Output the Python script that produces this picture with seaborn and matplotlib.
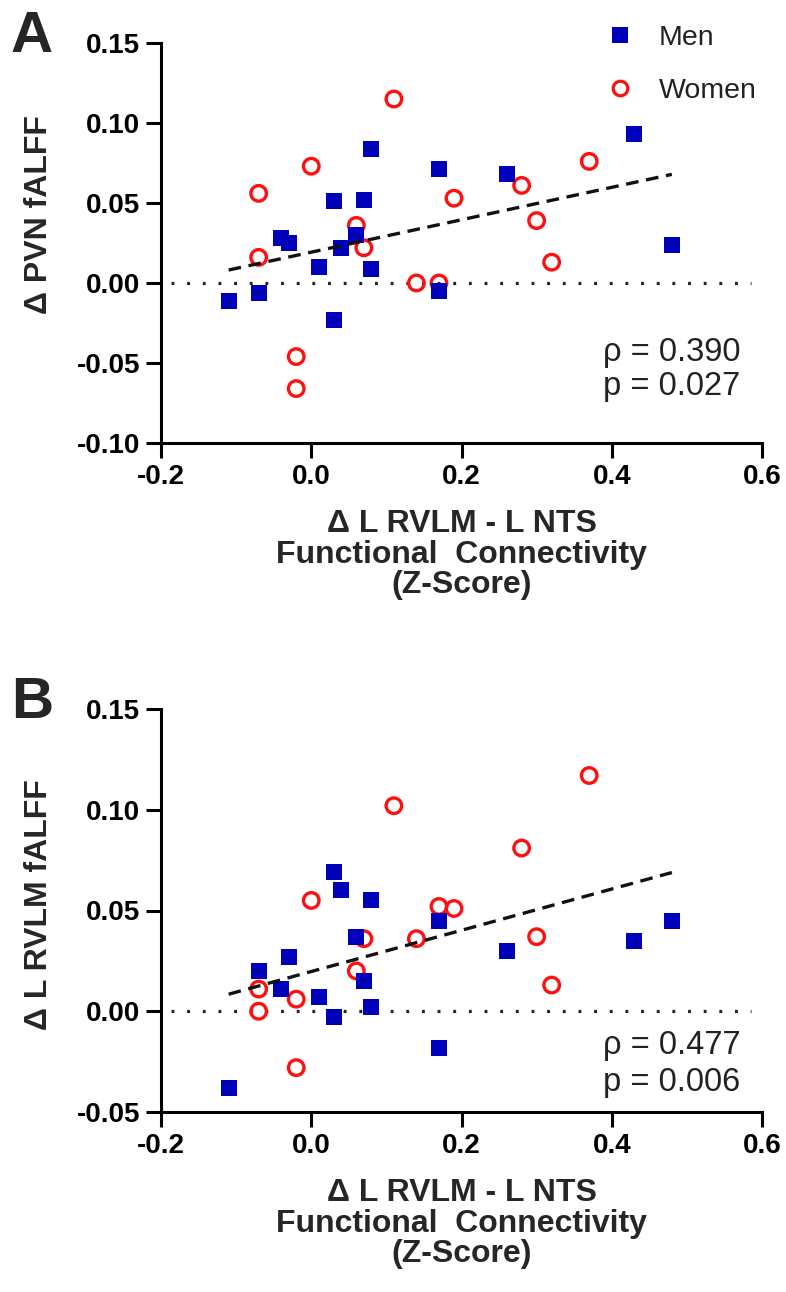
import matplotlib
matplotlib.use("Agg")
import matplotlib.pyplot as plt
from matplotlib.lines import Line2D
import seaborn as sns

# Δ L RVLM - L NTS functional connectivity (Z-score); same subjects in both panels
men_fc = [-0.11, -0.07, -0.04, -0.03, 0.01, 0.03, 0.03, 0.04, 0.06, 0.07,
          0.08, 0.08, 0.17, 0.17, 0.26, 0.43, 0.48]
women_fc = [-0.07, -0.07, -0.02, -0.02, 0.00, 0.06, 0.07, 0.11, 0.14, 0.17,
            0.19, 0.28, 0.30, 0.32, 0.37]

# Panel A: Δ PVN fALFF
men_pvn = [-0.011, -0.006, 0.028, 0.025, 0.010, 0.051, -0.023, 0.022, 0.030,
           0.052, 0.084, 0.009, 0.071, -0.005, 0.068, 0.093, 0.024]
women_pvn = [0.056, 0.016, -0.046, -0.066, 0.073, 0.036, 0.022, 0.115, 0.000,
             0.000, 0.053, 0.061, 0.039, 0.013, 0.076]

# Panel B: Δ L RVLM fALFF
men_rvlm = [-0.038, 0.020, 0.011, 0.027, 0.007, 0.069, -0.003, 0.060, 0.037,
            0.015, 0.055, 0.002, 0.045, -0.018, 0.030, 0.035, 0.045]
women_rvlm = [0.011, 0.000, 0.006, -0.028, 0.055, 0.020, 0.036, 0.102, 0.036,
              0.052, 0.051, 0.081, 0.037, 0.013, 0.117]

x_ticks = [-0.2, 0.0, 0.2, 0.4, 0.6]
y_ticks_a = [-0.10, -0.05, 0.00, 0.05, 0.10, 0.15]
y_ticks_b = [-0.05, 0.00, 0.05, 0.10, 0.15]

stats_a = ["ρ = 0.390", "p = 0.027"]
stats_b = ["ρ = 0.477", "p = 0.006"]

group_labels = ["Men", "Women"]
x_title = "Δ L RVLM - L NTS\nFunctional  Connectivity\n(Z-Score)"

BLUE = "#0000BB"
RED = "#FF1010"

sns.set_style("ticks")
plt.rcParams["font.family"] = ["Liberation Sans", "DejaVu Sans"]
plt.rcParams["axes.unicode_minus"] = False

W, H = 786, 1292
fig = plt.figure(figsize=(W / 100, H / 100), dpi=100)
ax_a = fig.add_axes([161 / W, 1 - 443 / H, 601 / W, 400 / H])
ax_b = fig.add_axes([161 / W, 1 - 1112 / H, 601 / W, 403 / H])


def draw_panel(ax, men_y, women_y, y_ticks, ylabel, ylabel_y, stats, stats_y):
    sns.scatterplot(x=women_fc, y=women_y, ax=ax, marker="o", s=125,
                    color=RED, zorder=3)
    ring = ax.collections[-1]
    ring.set_facecolor("none")
    ring.set_edgecolor(RED)
    ring.set_linewidth(2.4)

    sns.scatterplot(x=men_fc, y=men_y, ax=ax, marker="s", s=145,
                    color=BLUE, linewidth=0, zorder=4)

    sns.regplot(x=men_fc + women_fc, y=men_y + women_y, ax=ax,
                scatter=False, ci=None, truncate=True,
                line_kws=dict(color="#111111", lw=2.4,
                              ls=(0, (3.8, 2.3)), zorder=5))

    ax.axhline(0, xmin=0.016, xmax=0.982, color="#222222", lw=2.3,
               ls=(0, (0.9, 4.0)), zorder=1)

    ax.set_xlim(x_ticks[0], x_ticks[-1])
    ax.set_ylim(y_ticks[0], y_ticks[-1])
    ax.set_xticks(x_ticks, labels=[f"{v:.1f}" for v in x_ticks],
                  fontweight="bold")
    ax.set_yticks(y_ticks, labels=[f"{v:.2f}" for v in y_ticks],
                  fontweight="bold")
    ax.tick_params(axis="both", length=11, width=2.2, labelsize=20,
                   pad=4, color="black", labelcolor="black")
    sns.despine(ax=ax)
    for side in ("left", "bottom"):
        ax.spines[side].set_linewidth(2.2)
        ax.spines[side].set_color("black")

    ax.set_xlabel(x_title, fontsize=23, fontweight="bold",
                  linespacing=1.02, labelpad=14)
    ax.set_ylabel(ylabel, fontsize=23, fontweight="bold")
    ax.yaxis.set_label_coords(-0.178, ylabel_y)

    for txt, yy in zip(stats, stats_y):
        ax.text(0.735, yy, txt, transform=ax.transAxes, fontsize=23.5,
                ha="left", va="center", color="#222222")


draw_panel(ax_a, men_pvn, women_pvn, y_ticks_a, "Δ PVN fALFF", 0.57,
           stats_a, [0.2275, 0.1425])
draw_panel(ax_b, men_rvlm, women_rvlm, y_ticks_b, "Δ L RVLM fALFF", 0.514,
           stats_b, [0.166, 0.0744])

handles = [
    Line2D([], [], ls="none", marker="s", markersize=11.5,
           markerfacecolor=BLUE, markeredgewidth=0),
    Line2D([], [], ls="none", marker="o", markersize=10.5,
           markerfacecolor="none", markeredgecolor=RED, markeredgewidth=2.3),
]
ax_a.legend(handles, group_labels, loc="upper left",
            bbox_to_anchor=(0.74, 1.045), frameon=False, fontsize=20.5,
            handlelength=1.0, handletextpad=0.85, labelspacing=0.95,
            borderpad=0, borderaxespad=0, labelcolor="#222222")

fig.text(32 / W, 1 - 52 / H, "A", fontsize=42, fontweight="bold",
         ha="center", va="baseline")
fig.text(32 / W, 1 - 718 / H, "B", fontsize=42, fontweight="bold",
         ha="center", va="baseline")

fig.savefig("out.png", dpi=100, facecolor="white")
